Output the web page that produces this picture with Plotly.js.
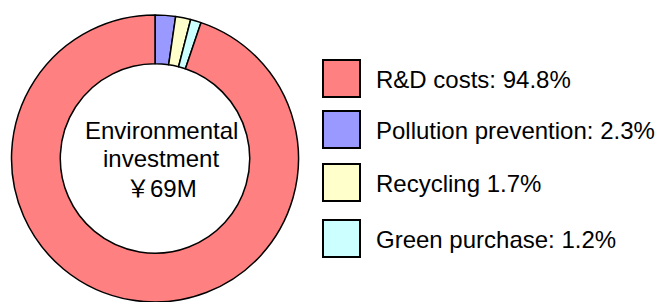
<!DOCTYPE html>
<html>
<head>
<meta charset="utf-8">
<script src="https://cdn.plot.ly/plotly-3.0.1.min.js"></script>
<style>
html,body{margin:0;padding:0;background:#fff;}
#chart{width:657px;height:302px;}
</style>
</head>
<body>
<div id="chart"></div>
<script>
// Data
const categories = ["R&D costs", "Pollution prevention", "Recycling", "Green purchase"];
const shares = [94.8, 2.3, 1.7, 1.2];
const legendLabels = ["R&D costs: 94.8%", "Pollution prevention: 2.3%", "Recycling 1.7%", "Green purchase: 1.2%"];
const colors = ["#FF8080", "#9999FF", "#FFFFCC", "#CCFFFF"];
const centerLines = ["Environmental", "investment", "\uFFE569M"];
// slice drawing order (clockwise from 12 o'clock)
const pieOrder = [1, 2, 3, 0];

const W = 657, H = 302;
const px = x => x / W;
const py = y => 1 - y / H;
const FONT = "Liberation Sans, Arial, Noto Sans CJK JP, sans-serif";

const trace = {
  type: "pie",
  labels: pieOrder.map(i => categories[i]),
  values: pieOrder.map(i => shares[i]),
  marker: { colors: pieOrder.map(i => colors[i]), line: { color: "#000", width: 1.5 } },
  hole: 0.66,
  sort: false,
  direction: "clockwise",
  rotation: 0,
  textinfo: "none",
  hoverinfo: "label+percent",
  showlegend: false,
  domain: { x: [px(11), px(299)], y: [0, py(15)] }
};

const shapes = [];
const annotations = [];
const rowCenters = [79, 130, 183, 239];
categories.forEach((c, i) => {
  const cy = rowCenters[i];
  shapes.push({
    type: "rect", xref: "paper", yref: "paper",
    x0: px(323), x1: px(360), y0: py(cy - 19), y1: py(cy + 18),
    fillcolor: colors[i], line: { color: "#000", width: 2 }
  });
  annotations.push({
    xref: "paper", yref: "paper", x: px(374), y: py(cy),
    xanchor: "left", yanchor: "middle", showarrow: false,
    text: legendLabels[i],
    font: { family: FONT, size: 24, color: "#000" }
  });
});
const centerY = [130, 158, 188];
centerLines.forEach((t, i) => {
  annotations.push({
    xref: "paper", yref: "paper", x: px(161), y: py(centerY[i]),
    xanchor: "center", yanchor: "middle", showarrow: false,
    text: t,
    font: { family: FONT, size: 24, color: "#000" }
  });
});

const layout = {
  width: W, height: H,
  margin: { l: 0, r: 0, t: 0, b: 0 },
  paper_bgcolor: "#fff",
  plot_bgcolor: "#fff",
  showlegend: false,
  shapes: shapes,
  annotations: annotations
};

Plotly.newPlot("chart", [trace], layout, { displayModeBar: false, staticPlot: true });
</script>
</body>
</html>
